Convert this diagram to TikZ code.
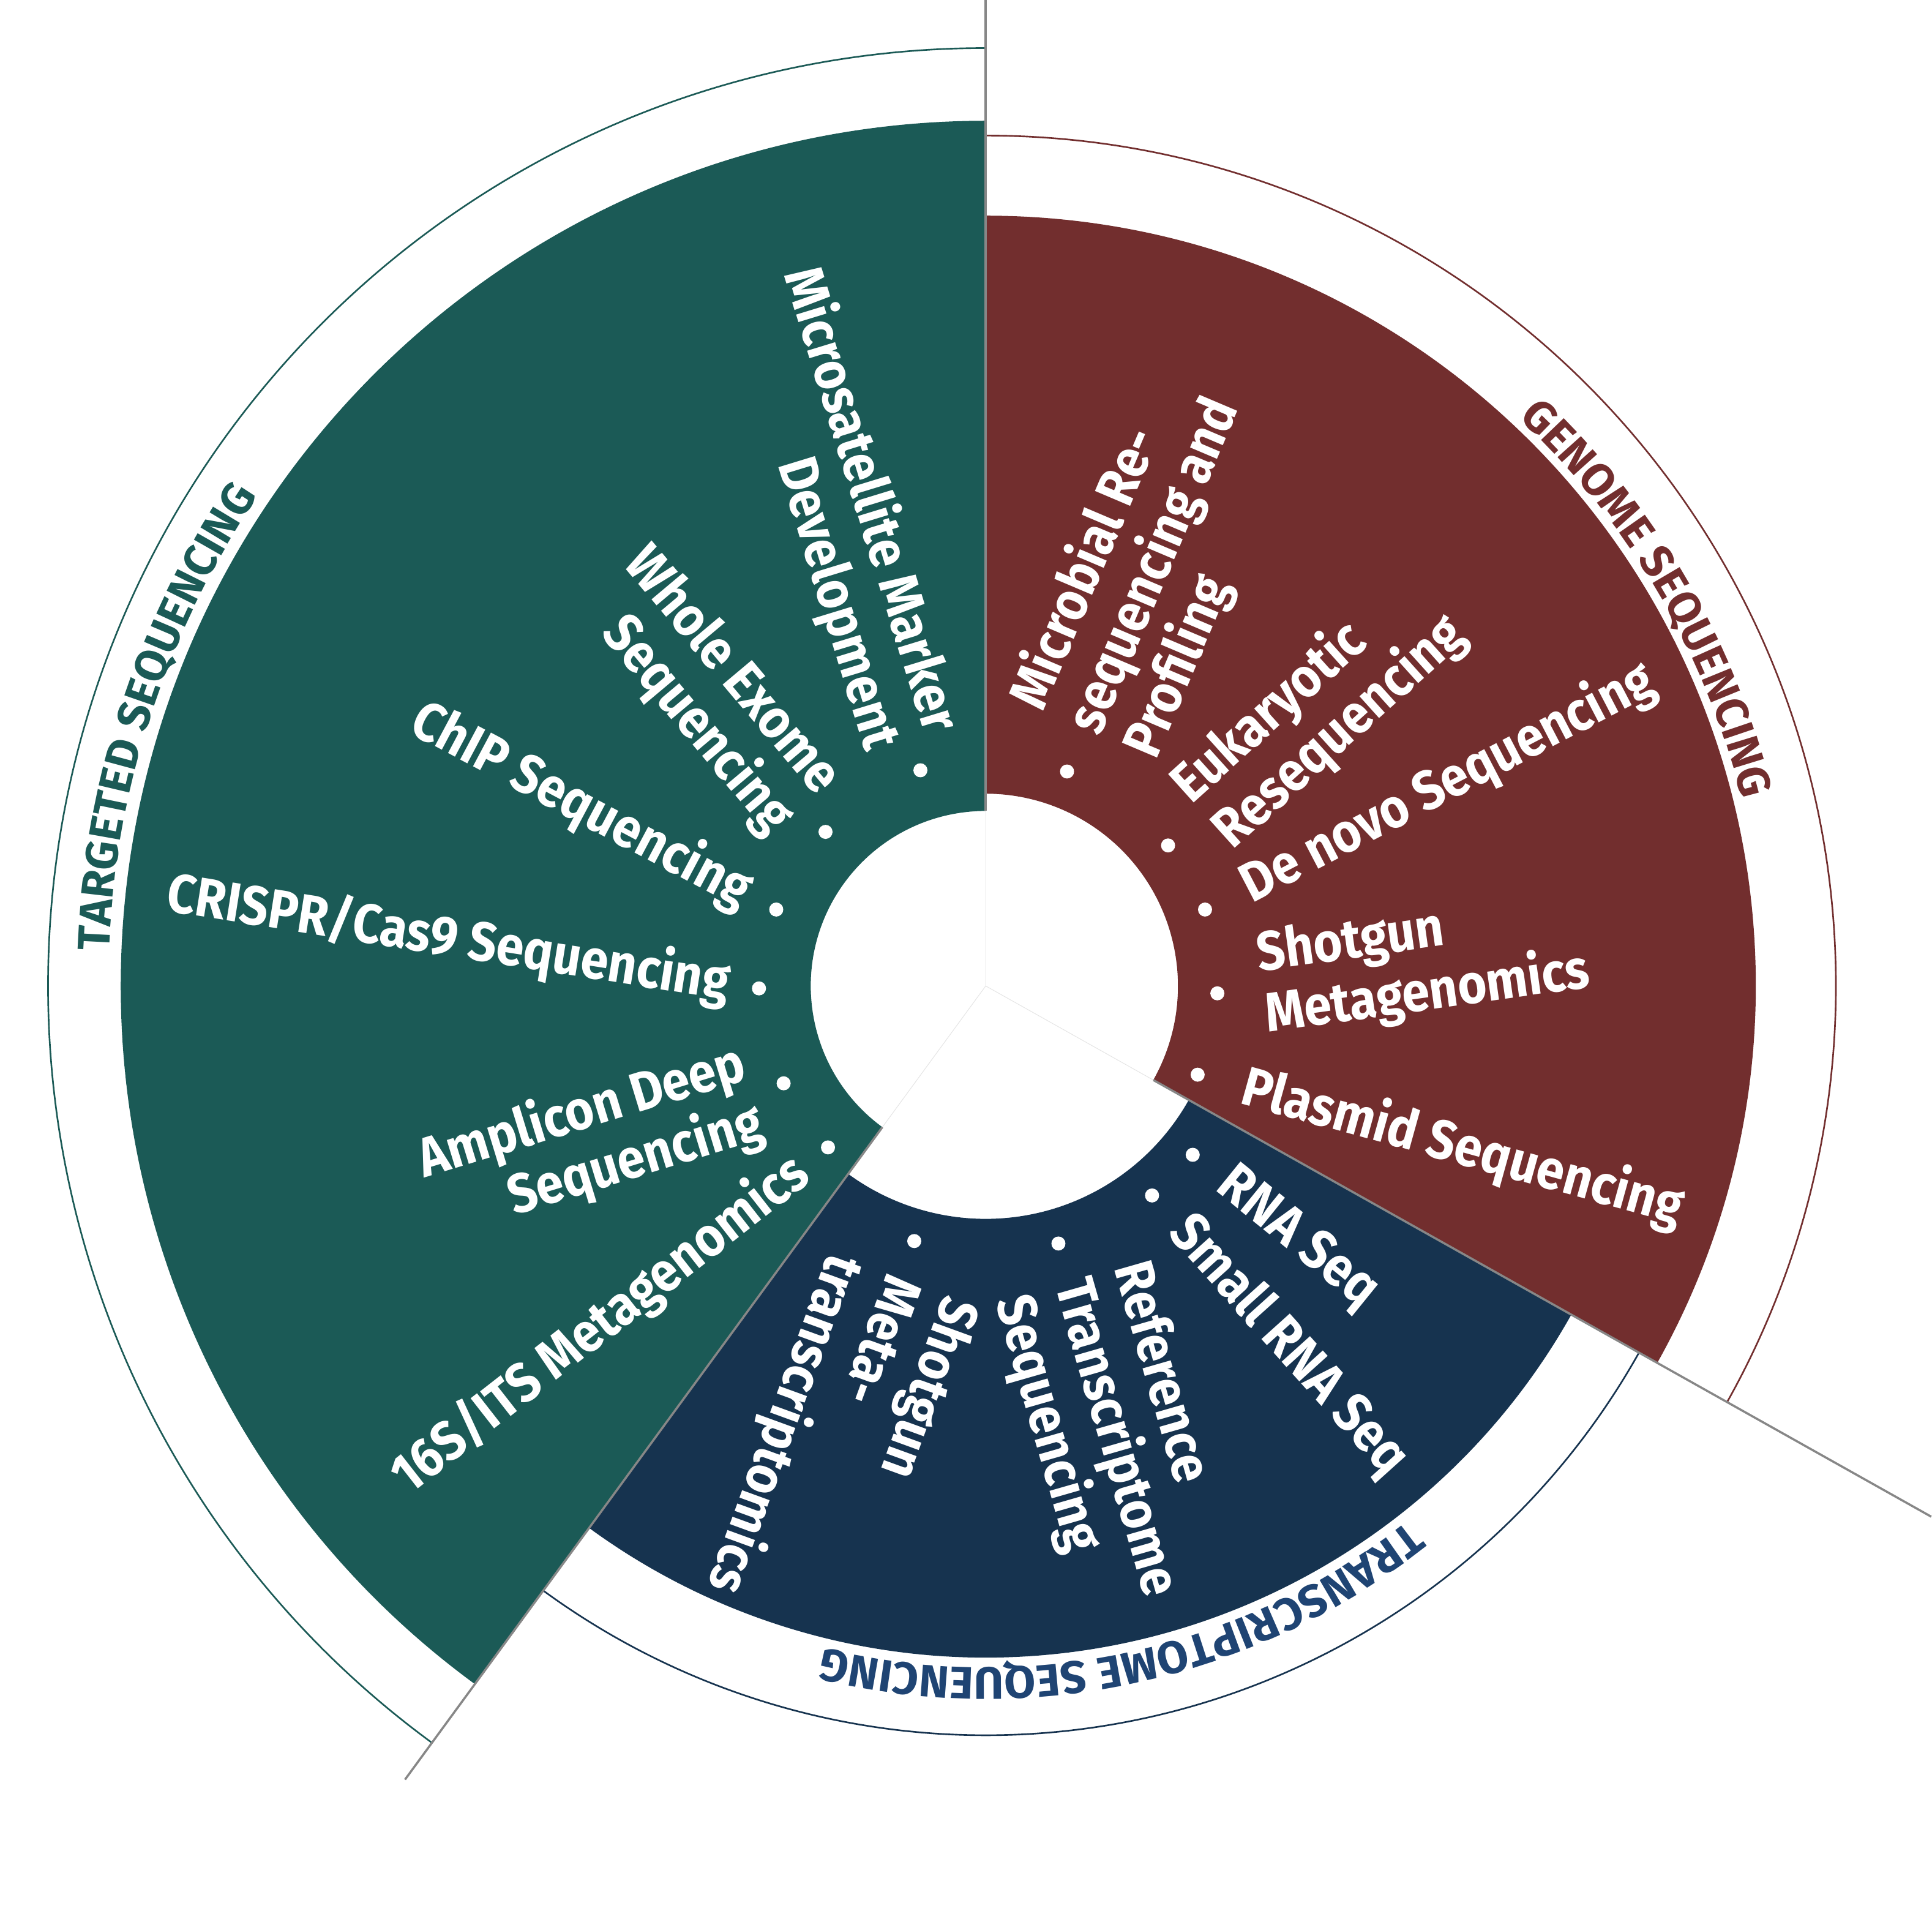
\documentclass[tikz,border=0pt]{standalone}
\usepackage{fontspec}
\newfontfamily\lblfont{Fira Sans}[FakeStretch=0.9]
\newfontfamily\rngfont{Fira Sans}
\usetikzlibrary{calc,decorations.text}

\definecolor{tgreen}{RGB}{27,90,86}
\definecolor{gred}{RGB}{114,46,46}
\definecolor{tnavy}{RGB}{22,51,79}
\definecolor{tblue}{RGB}{31,68,115}
\definecolor{cutgray}{RGB}{135,135,135}

\newcommand{\rngtitle}{\rngfont\bfseries\fontsize{21}{24}\selectfont}

\begin{document}
\begin{tikzpicture}[x=0.57pt, y=0.57pt,
    cutline/.style={draw=cutgray, line width=1pt},
    hairline/.style={draw=black!10, line width=0.3pt},
    ringline/.style={line width=0.75pt},
    itemdot/.style={circle, fill=white, inner sep=0pt, minimum size=6.5pt},
    itm/.style={text=white, inner sep=0pt, font=\lblfont\bfseries\fontsize{25.5}{28.5}\selectfont},
    itml/.style={itm, align=left, anchor=west},
    itmr/.style={itm, align=right, anchor=east}]

\useasboundingbox (-800,-766) rectangle (768,800);

% the three sectors
\fill[tgreen] (90:142) -- (90:702) arc[start angle=90, end angle=233.8, radius=702]
    -- (233.8:142) arc[start angle=233.8, end angle=90, radius=142] -- cycle;
\fill[gred] (90:156) -- (90:625) arc[start angle=90, end angle=-29.3, radius=625]
    -- (-29.3:156) arc[start angle=-29.3, end angle=90, radius=156] -- cycle;
\fill[tnavy] (-29.3:189) -- (-29.3:545) arc[start angle=-29.3, end angle=-126.2, radius=545]
    -- (-126.2:189) arc[start angle=-126.2, end angle=-29.3, radius=189] -- cycle;

% outer rings
\draw[ringline, tgreen] (90:761) arc[start angle=90, end angle=233.8, radius=761];
\draw[ringline, gred] (90:690) arc[start angle=90, end angle=-29.3, radius=690];
\draw[ringline, tnavy] (-29.3:608) arc[start angle=-29.3, end angle=-126.2, radius=608];

% dividing lines
\draw[hairline] (0,0) -- (90:142);
\draw[hairline] (0,0) -- (-29.3:156);
\draw[hairline] (0,0) -- (233.8:142);
\draw[cutline] (90:142) -- (90:800);
\draw[cutline] (-29.3:156) -- (-29.3:880);
\draw[cutline] (233.8:142) -- (233.8:798);

% ring titles
\path[decorate, decoration={text along path, text align=center,
    text={|\rngtitle\color{tgreen}|TARGETED SEQUENCING}}]
    (233.8:712) arc[start angle=233.8, end angle=90, radius=712];
\path[decorate, decoration={text along path, text align=center,
    text={|\rngtitle\color{gred}|GENOME SEQUENCING}}]
    (90:632) arc[start angle=90, end angle=-29.3, radius=632];
\path[decorate, decoration={text along path, text align=center,
    text={|\rngtitle\color{tblue}|TRANSCRIPTOME SEQUENCING}}]
    (-29.3:553) arc[start angle=-29.3, end angle=-126.2, radius=553];

% genome sequencing
\node[itemdot] (b1) at (66,174) {};
\node[itml, rotate=67] (l1) at ($(b1)+(67:36)$) {Microbial Re-\\sequencing and\\Profiling};
\node[itemdot] (b2) at (148,114) {};
\node[itml, rotate=42] (l2) at ($(b2)+(42:36)$) {Eukaryotic\\Resequencing};
\node[itemdot] (b3) at (178,62) {};
\node[itml, rotate=27.5] (l3) at ($(b3)+(27.5:36)$) {De novo Sequencing};
\node[itemdot] (b4) at (188,-6) {};
\node[itml, rotate=8] (l4) at ($(b4)+(8:36)$) {Shotgun\\Metagenomics};
\node[itemdot] (b5) at (172,-72) {};
\node[itml, rotate=-15.5] (l5) at ($(b5)+(-15.5:38)$) {Plasmid Sequencing};

% transcriptome sequencing
\node[itemdot] (b6) at (168,-137) {};
\node[itml, rotate=-39] (l6) at ($(b6)+(-39:31)$) {RNA Seq};
\node[itemdot] (b7) at (135,-170) {};
\node[itml, rotate=-48] (l7) at ($(b7)+(-48:31)$) {Small RNA Seq};
\node[itemdot] (b8) at (59,-209) {};
\node[itml, rotate=-74] (l8) at ($(b8)+(-74:31)$) {Reference\\Transcriptome\\Sequencing};
\node[itemdot] (b9) at (-58,-207) {};
\node[itml, rotate=-110] (l9) at ($(b9)+(-110:31)$) {Shotgun\\Meta-\\transcriptomics};

% targeted sequencing
\node[itemdot] (b10) at (-53,175) {};
\node[itmr, rotate=-73] (l10) at ($(b10)+(107:26)$) {Microsatellite Marker\\Development};
\node[itemdot] (b11) at (-130,125) {};
\node[itmr, rotate=-50] (l11) at ($(b11)+(130:26)$) {Whole Exome\\Sequencing};
\node[itemdot] (b12) at (-170,62) {};
\node[itmr, rotate=-28] (l12) at ($(b12)+(152:26)$) {ChIP Sequencing};
\node[itemdot] (b13) at (-184,-2) {};
\node[itmr, rotate=-9] (l13) at ($(b13)+(171:24)$) {CRISPR/Cas9 Sequencing};
\node[itemdot] (b14) at (-164,-79) {};
\node[itmr, rotate=17] (l14) at ($(b14)+(197:26)$) {Amplicon Deep\\Sequencing};
\node[itemdot] (b15) at (-128,-131) {};
\node[itmr, rotate=38] (l15) at ($(b15)+(218:26)$) {16S/ITS Metagenomics};
\end{tikzpicture}
\end{document}
